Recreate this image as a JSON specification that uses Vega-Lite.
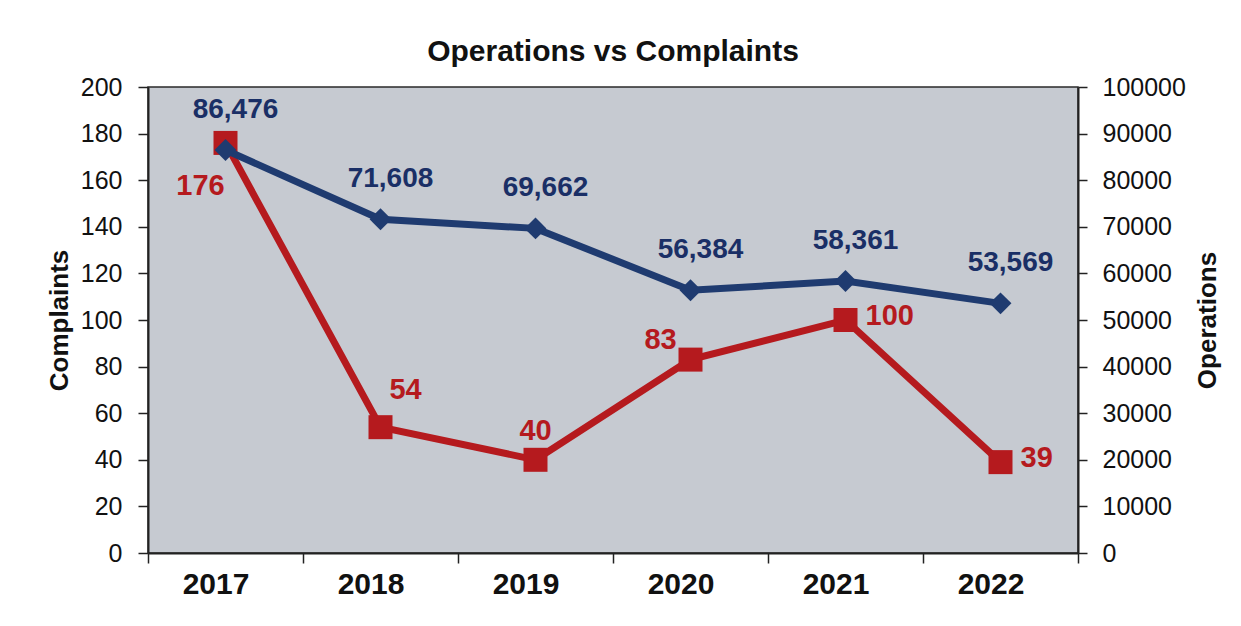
{
  "$schema": "https://vega.github.io/schema/vega-lite/v6.json",
  "width": 930,
  "height": 466,
  "autosize": {"type": "none"},
  "padding": {"left": 148, "top": 87, "right": 163, "bottom": 73},
  "background": "white",
  "config": {
    "font": "Liberation Sans",
    "view": {"fill": "#c6cad1", "stroke": "#2a2a2a", "strokeWidth": 1.5},
    "axis": {"grid": false, "domainColor": "#222", "tickColor": "#222", "labelColor": "#111", "titleColor": "#111", "domainWidth": 2, "tickWidth": 1.5}
  },
  "title": {"text": "Operations vs Complaints", "fontSize": 30, "fontWeight": "bold", "color": "#111", "anchor": "middle", "offset": 8},
  "data": {"values": [
    {"year": "2017", "complaints": 176, "operations": 86476},
    {"year": "2018", "complaints": 54, "operations": 71608},
    {"year": "2019", "complaints": 40, "operations": 69662},
    {"year": "2020", "complaints": 83, "operations": 56384},
    {"year": "2021", "complaints": 100, "operations": 58361},
    {"year": "2022", "complaints": 39, "operations": 53569}
  ]},
  "encoding": {
    "x": {"field": "year", "type": "ordinal", "bandPosition": 0.5,
      "scale": {"type": "band", "paddingInner": 0, "paddingOuter": 0},
      "axis": {"title": null, "labelAngle": 0, "labelFontSize": 30, "labelFontWeight": "bold", "tickBand": "extent", "tickSize": 10, "labelPadding": 6, "labelOffset": -10}}
  },
  "layer": [
    {
      "encoding": {
        "y": {"field": "complaints", "type": "quantitative",
          "scale": {"domain": [0, 200], "nice": false},
          "axis": {"title": "Complaints", "orient": "left", "values": [0,20,40,60,80,100,120,140,160,180,200], "labelFontSize": 25, "tickSize": 10, "labelPadding": 16, "titleFontSize": 26, "titleFontWeight": "bold", "titlePadding": 8}}
      },
      "layer": [
        {"mark": {"type": "line", "color": "#b51a1e", "strokeWidth": 7}},
        {"mark": {"type": "point", "shape": "square", "filled": true, "opacity": 1, "size": 576, "color": "#b51a1e"}},
        {"transform": [{"filter": "datum.year == '2017'"}],
          "mark": {"type": "text", "fontSize": 29, "fontWeight": "bold", "color": "#b51a1e", "align": "center", "baseline": "middle", "dx": -25, "dy": 43},
          "encoding": {"text": {"field": "complaints", "type": "quantitative"}}},
        {"transform": [{"filter": "datum.year == '2018'"}],
          "mark": {"type": "text", "fontSize": 29, "fontWeight": "bold", "color": "#b51a1e", "align": "center", "baseline": "middle", "dx": 25, "dy": -37},
          "encoding": {"text": {"field": "complaints", "type": "quantitative"}}},
        {"transform": [{"filter": "datum.year == '2019'"}],
          "mark": {"type": "text", "fontSize": 29, "fontWeight": "bold", "color": "#b51a1e", "align": "center", "baseline": "middle", "dx": 0, "dy": -29},
          "encoding": {"text": {"field": "complaints", "type": "quantitative"}}},
        {"transform": [{"filter": "datum.year == '2020'"}],
          "mark": {"type": "text", "fontSize": 29, "fontWeight": "bold", "color": "#b51a1e", "align": "center", "baseline": "middle", "dx": -30, "dy": -20},
          "encoding": {"text": {"field": "complaints", "type": "quantitative"}}},
        {"transform": [{"filter": "datum.year == '2021' || datum.year == '2022'"}],
          "mark": {"type": "text", "fontSize": 29, "fontWeight": "bold", "color": "#b51a1e", "align": "left", "baseline": "middle", "dx": 20, "dy": -4},
          "encoding": {"text": {"field": "complaints", "type": "quantitative"}}}
      ]
    },
    {
      "encoding": {
        "y": {"field": "operations", "type": "quantitative",
          "scale": {"domain": [0, 100000], "nice": false},
          "axis": {"title": "Operations", "orient": "right", "titleAngle": 270, "titleX": 129, "titleY": 233, "titleAlign": "center", "titleBaseline": "middle", "values": [0,10000,20000,30000,40000,50000,60000,70000,80000,90000,100000], "format": "d", "labelFontSize": 25, "tickSize": 9, "labelPadding": 15, "titleFontSize": 26, "titleFontWeight": "bold"}}
      },
      "layer": [
        {"mark": {"type": "line", "color": "#1f3b70", "strokeWidth": 7}},
        {"mark": {"type": "point", "shape": "diamond", "filled": true, "opacity": 1, "size": 480, "color": "#1f3b70"}},
        {"mark": {"type": "text", "fontSize": 28, "fontWeight": "bold", "color": "#1a2f66", "align": "center", "baseline": "middle", "dx": 10, "dy": -40},
          "encoding": {"text": {"field": "operations", "type": "quantitative", "format": ","}}}
      ]
    }
  ],
  "resolve": {"scale": {"y": "independent"}, "axis": {"y": "independent"}}
}
